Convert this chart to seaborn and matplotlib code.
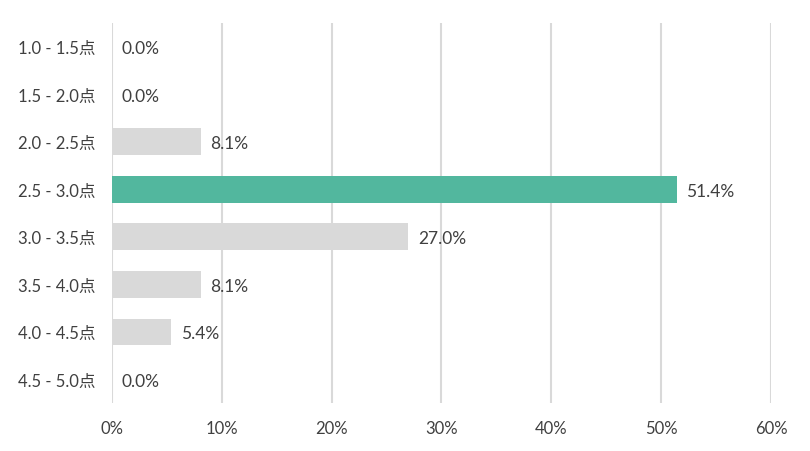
import matplotlib
matplotlib.use("Agg")
import matplotlib.pyplot as plt
import seaborn as sns
import pandas as pd
from matplotlib.ticker import FuncFormatter

categories = ["1.0 - 1.5点", "1.5 - 2.0点", "2.0 - 2.5点", "2.5 - 3.0点",
              "3.0 - 3.5点", "3.5 - 4.0点", "4.0 - 4.5点", "4.5 - 5.0点"]
values = [0.0, 0.0, 8.1, 51.4, 27.0, 8.1, 5.4, 0.0]
highlight = "2.5 - 3.0点"
xticks = [0, 10, 20, 30, 40, 50, 60]

sns.set_theme(style="white")
plt.rcParams['font.family'] = ['Lato', 'Noto Sans CJK JP', 'DejaVu Sans']

df = pd.DataFrame({"cat": categories, "val": values})
df["grp"] = ["hi" if c == highlight else "lo" for c in categories]
palette = {"hi": "#52B79E", "lo": "#D9D9D9"}

fig = plt.figure(figsize=(8.1, 4.52), dpi=100)
ax = fig.add_axes([0.138, 0.106, 0.814, 0.841])
ax.set_axisbelow(True)
for x in xticks:
    ax.axvline(x, color="#D9D9D9", lw=1.5, zorder=0)

sns.barplot(data=df, y="cat", x="val", hue="grp", palette=palette,
            order=categories, orient="h", width=0.56, dodge=False,
            legend=False, ax=ax, saturation=1, zorder=2, linewidth=0)

ax.set_xlim(0, 60)
ax.set_ylim(7.5, -0.5)
ax.set_xticks(xticks)
ax.xaxis.set_major_formatter(FuncFormatter(lambda v, p: f"{int(v)}%"))
ax.set_xlabel("")
ax.set_ylabel("")
for s in ax.spines.values():
    s.set_visible(False)
ax.tick_params(axis="both", length=0, labelsize=12, colors="#404040")
ax.tick_params(axis="x", pad=12)
ax.tick_params(axis="y", pad=12)

for i, v in enumerate(values):
    ax.annotate(f"{v:.1f}%", xy=(v, i), xytext=(7, -1), textcoords="offset points",
                va="center", ha="left", fontsize=12.5, color="#404040")

fig.savefig("out.png", dpi=100)
